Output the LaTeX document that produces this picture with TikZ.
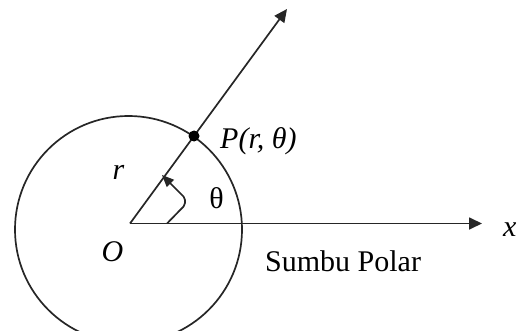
\documentclass[tikz,border=0pt]{standalone}
\usepackage{fontspec}
\setmainfont{Liberation Serif}
\usetikzlibrary{arrows.meta}
\begin{document}
\begin{tikzpicture}[x=1pt,y=-1pt,
  line/.style={line width=1.7pt,black!85},
  bigtip/.style={-{Triangle[length=13pt,width=12pt]}},
  smalltip/.style={-{Triangle[length=12pt,width=10pt]}},
  lbl/.style={inner sep=0pt,font=\fontsize{30}{36}\selectfont}]
\useasboundingbox (0,0) rectangle (518,331);
\coordinate (O) at (130,223.5);
\coordinate (C) at (128.5,229.5);
\coordinate (rayend) at (287,9);
\coordinate (axend) at (482,223.5);
\coordinate (P) at (194,136);
\coordinate (a1) at (167,223.5);
\coordinate (a2) at (185,205);
\coordinate (a3) at (185,198);
\coordinate (a4) at (162,175);
\draw[line] (C) circle (113.5);
\draw[line,bigtip] (O) -- (rayend);
\draw[line,bigtip] (O) -- (axend);
\fill (P) circle (5.5);
\draw[line,smalltip,rounded corners=2pt] (a1) -- (a2) -- (a3) -- (a4);
\node[lbl,anchor=base west] (Plbl) at (220,148) {\itshape P(r, θ)};
\node[lbl] (rlbl) at (118.5,172) {\itshape r};
\node[lbl] (thlbl) at (216.5,198.5) {θ};
\node[lbl] (Olbl) at (112.5,251.5) {\itshape O};
\node[lbl,anchor=base west] (xlbl) at (503,236) {\itshape x};
\node[lbl,anchor=base west] (sp) at (265,271.5) {Sumbu Polar};
\end{tikzpicture}
\end{document}
